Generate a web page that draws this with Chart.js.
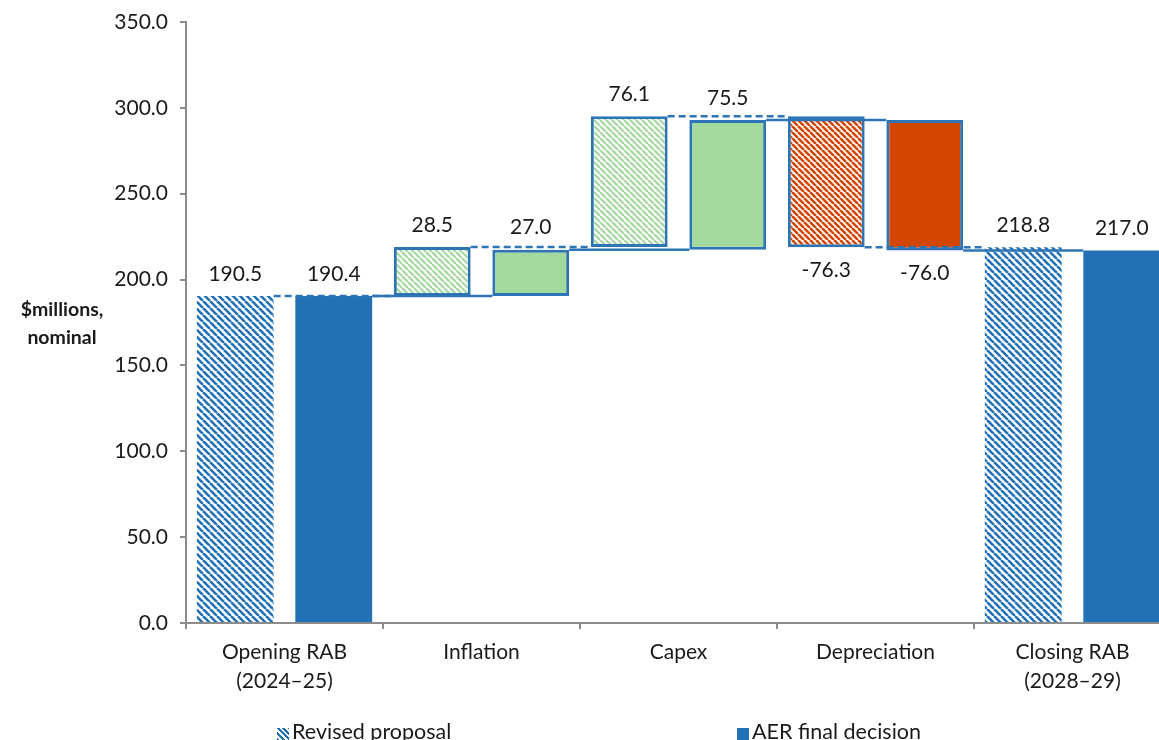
<!DOCTYPE html>
<html>
<head>
<meta charset="utf-8">
<script src="https://cdn.jsdelivr.net/npm/chart.js@4.4.0/dist/chart.umd.min.js"></script>
<style>
  html, body { margin: 0; padding: 0; background: #fff; overflow: hidden; }
  #wrap { position: relative; width: 1180px; height: 740px; }
  #yTitle {
    position: absolute; left: 0; top: 295px; width: 124px;
    text-align: center; font: bold 19.5px Lato, sans-serif; line-height: 28px; color: #1a1a1a;
  }
  .leg { position: absolute; top: 717px; font: 21.5px Lato, sans-serif; line-height: 28px; color: #1a1a1a; white-space: nowrap; }
  .leg i { display: inline-block; width: 12px; height: 12px; margin-right: 3px; vertical-align: -1px; }
</style>
</head>
<body>
<div id="wrap">
  <canvas id="chart"></canvas>
  <div id="yTitle">$millions,<br>nominal</div>
  <div class="leg" style="left:277px"><i style="background:repeating-linear-gradient(45deg,#2271b5 0 2px,#fff 2px 4px)"></i>Revised proposal</div>
  <div class="leg" style="left:737px"><i style="background:#2271b5"></i>AER final decision</div>
</div>
<script>
// ---- data ----
const categories = [['Opening RAB', '(2024–25)'], 'Inflation', 'Capex', 'Depreciation', ['Closing RAB', '(2028–29)']];
const revisedValues = [190.5, 28.5, 76.1, -76.3, 218.8];
const aerValues = [190.4, 27.0, 75.5, -76.0, 217.0];
const seriesNames = ['Revised proposal', 'AER final decision'];
const yMin = 0, yMax = 350, yStep = 50;

const blue = '#2271b5';
const edgeBlue = '#2e75b6';
const green = '#a3d99c';
const orange = '#d24600';
const axisGrey = '#8c8c8c';
const textColor = '#1a1a1a';
const fontFamily = "Lato, 'Open Sans', sans-serif";
const fontSize = 21;

// diagonal hatch ("\" direction)
function hatch(fg, size, lw) {
  const c = document.createElement('canvas');
  c.width = size; c.height = size;
  const x = c.getContext('2d');
  x.fillStyle = '#fff';
  x.fillRect(0, 0, size, size);
  x.strokeStyle = fg;
  x.lineWidth = lw;
  x.beginPath();
  for (const k of [-size, 0, size]) {
    x.moveTo(k, 0);
    x.lineTo(k + size, size);
  }
  x.stroke();
  return x.createPattern(c, 'repeat');
}

// floating bars for a waterfall: first and last from zero, others from running total
function toRanges(vals) {
  let run = 0;
  return vals.map((v, i) => {
    if (i === 0 || i === vals.length - 1) { run = v; return [0, v]; }
    const r = [run, run + v];
    run += v;
    return r;
  });
}

function fills(kind) {
  const last = categories.length - 1;
  return categories.map((c, i) => {
    const v = (kind === 'rev' ? revisedValues : aerValues)[i];
    if (i === 0 || i === last) return kind === 'rev' ? hatch(blue, 7, 2.6) : blue;
    if (v >= 0) return kind === 'rev' ? hatch(green, 6, 2.2) : green;
    return kind === 'rev' ? hatch(orange, 6, 2.6) : orange;
  });
}
const borderWidths = categories.map((c, i) => (i === 0 || i === categories.length - 1) ? 0 : 3);

// dashed/solid connectors between consecutive bars of a series
const connectorPlugin = {
  id: 'connectors',
  afterDatasetsDraw(chart) {
    const ctx = chart.ctx;
    const y = chart.scales.y;
    chart.data.datasets.forEach((ds, d) => {
      const meta = chart.getDatasetMeta(d);
      ctx.save();
      ctx.strokeStyle = edgeBlue;
      ctx.lineWidth = 2.5;
      ctx.setLineDash(d === 0 ? [7, 4] : []);
      for (let i = 0; i < meta.data.length - 1; i++) {
        const a = meta.data[i], b = meta.data[i + 1];
        const level = ds.data[i][1];
        const py = y.getPixelForValue(level);
        ctx.beginPath();
        ctx.moveTo(a.x + a.width / 2, py);
        ctx.lineTo(b.x - b.width / 2, py);
        ctx.stroke();
      }
      ctx.restore();
    });
  }
};

// value labels above positive / below negative bars
const valueLabelPlugin = {
  id: 'valueLabels',
  afterDatasetsDraw(chart) {
    const ctx = chart.ctx;
    const y = chart.scales.y;
    const sources = [revisedValues, aerValues];
    ctx.save();
    ctx.font = fontSize + 'px ' + fontFamily;
    ctx.fillStyle = textColor;
    ctx.textAlign = 'center';
    ctx.textBaseline = 'middle';
    chart.data.datasets.forEach((ds, d) => {
      const meta = chart.getDatasetMeta(d);
      meta.data.forEach((bar, i) => {
        const v = sources[d][i];
        const r = ds.data[i];
        if (v >= 0) {
          ctx.fillText(v.toFixed(1), bar.x, y.getPixelForValue(Math.max(r[0], r[1])) - 22);
        } else {
          ctx.fillText(v.toFixed(1), bar.x, y.getPixelForValue(Math.min(r[0], r[1])) + 23);
        }
      });
    });
    ctx.restore();
  }
};

new Chart(document.getElementById('chart'), {
  type: 'bar',
  data: {
    labels: categories,
    datasets: [
      {
        label: seriesNames[0],
        data: toRanges(revisedValues),
        backgroundColor: fills('rev'),
        borderColor: edgeBlue,
        borderWidth: borderWidths,
        borderSkipped: false
      },
      {
        label: seriesNames[1],
        data: toRanges(aerValues),
        backgroundColor: fills('aer'),
        borderColor: edgeBlue,
        borderWidth: borderWidths,
        borderSkipped: false
      }
    ]
  },
  options: {
    responsive: true,
    maintainAspectRatio: false,
    animation: false,
    layout: { padding: { top: 22, right: 9, left: 0, bottom: 0 } },
    categoryPercentage: 1.0,
    barPercentage: 0.78,
    plugins: {
      legend: { display: false },
      tooltip: { enabled: false }
    },
    scales: {
      x: {
        afterFit: (s) => { s.height = 117; },
        grid: { drawOnChartArea: false, offset: true, tickLength: 6, color: axisGrey, lineWidth: 2 },
        border: { color: axisGrey, width: 2 },
        ticks: { color: textColor, padding: 9, font: { size: fontSize, family: fontFamily, lineHeight: 1.38 } }
      },
      y: {
        min: yMin,
        max: yMax,
        afterFit: (s) => { s.width = 186; s.paddingTop = 0; },
        grid: { drawOnChartArea: false, tickLength: 6, color: axisGrey, lineWidth: 2 },
        border: { color: axisGrey, width: 2 },
        ticks: {
          stepSize: yStep,
          color: textColor,
          padding: 12,
          font: { size: fontSize, family: fontFamily, lineHeight: 1.0 },
          callback: (v) => v.toFixed(1)
        }
      }
    }
  },
  plugins: [connectorPlugin, valueLabelPlugin]
});
</script>
</body>
</html>
